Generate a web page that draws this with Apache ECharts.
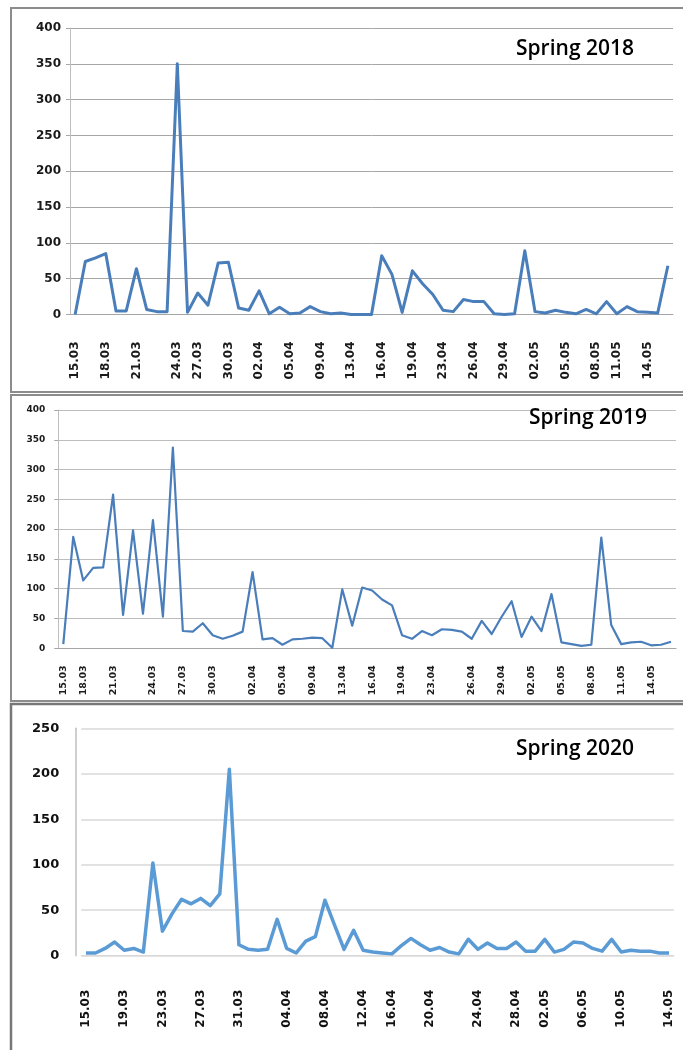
<!DOCTYPE html>
<html>
<head>
<meta charset="utf-8">
<script src="https://cdn.jsdelivr.net/npm/echarts@6/dist/echarts.min.js"></script>
<style>
html, body { margin: 0; padding: 0; background: #fff; }
#chart { width: 683px; height: 1050px; }
</style>
</head>
<body>
<div id="chart"></div>
<script>
// daily values, one entry per category (dates with gaps, as in the source sheets)
const spring2018 = [0, 74, 79, 85, 5, 5, 64, 7, 4, 4, 350, 3, 30, 13, 72, 73, 9, 6, 33, 1,
    10, 1, 2, 11, 4, 1, 2, 0, 0, 0, 82, 56, 3, 61, 43, 28, 6, 4, 21, 18,
    18, 1, 0, 1, 89, 4, 2, 6, 3, 1, 7, 1, 18, 1, 11, 4, 3, 2, 68]
const spring2019 = [7, 187, 114, 135, 136, 258, 56, 198, 58, 215, 53, 337, 29, 28, 42, 22, 16, 21, 28, 128,
    15, 17, 6, 15, 16, 18, 17, 1, 99, 38, 102, 97, 82, 72, 22, 16, 29, 22, 32, 31,
    28, 16, 46, 24, 53, 79, 19, 53, 29, 91, 10, 7, 4, 6, 186, 39, 7, 10, 11, 5, 6, 11]
const spring2020 = [3, 3, 8, 15, 6, 8, 4, 102, 27, 46, 62, 57, 63, 55, 68, 205, 12, 7, 6, 7,
    40, 8, 3, 16, 21, 61, 34, 7, 28, 6, 4, 3, 2, 11, 19, 12, 6, 9, 4, 2,
    18, 7, 14, 8, 8, 15, 5, 5, 18, 4, 7, 15, 14, 8, 5, 18, 4, 6, 5, 5, 3, 3]

// tick labels and the category index each one sits on
const ticks1819 = ['15.03', '18.03', '21.03', '24.03', '27.03', '30.03', '02.04', '05.04', '09.04', '13.04',
    '16.04', '19.04', '23.04', '26.04', '29.04', '02.05', '05.05', '08.05', '11.05', '14.05']
const tickPos2018 = [0, 3, 6, 10, 12, 15, 18, 21, 24, 27, 30, 33, 36, 39, 42, 45, 48, 51, 53, 56]
const tickPos2019 = [0, 2, 5, 9, 12, 15, 19, 22, 25, 28, 31, 34, 37, 41, 44, 47, 50, 53, 56, 59]
const ticks2020 = ['15.03', '19.03', '23.03', '27.03', '31.03', '04.04', '08.04', '12.04',
    '16.04', '20.04', '24.04', '28.04', '02.05', '06.05', '10.05', '14.05']
const tickPos2020 = [0, 4, 8, 12, 16, 21, 25, 29, 32, 36, 41, 45, 48, 52, 56, 61]

const makeCats = (n, pos, txt) => {
    const result = []
    for (let j = 0; j < n; j++) {
        const k = pos.indexOf(j)
        result.push(k >= 0 ? txt[k] : '')
    }
    return result
}

const font = 'DejaVu Sans'
const titleStyle = { fontFamily: 'Open Sans', fontWeight: 600, fontSize: 21, color: '#000' }

const chart = echarts.init(document.getElementById('chart'))

const option = {
    animation: false,
    backgroundColor: '#fff',
    graphic: [
        { type: 'rect', silent: true, z: 0, shape: { x: 11, y: 8, width: 700, height: 384 },
            style: { fill: 'none', stroke: '#8c8c8c', lineWidth: 2 } },
        { type: 'rect', silent: true, z: 0, shape: { x: 11, y: 395, width: 700, height: 306 },
            style: { fill: 'none', stroke: '#8c8c8c', lineWidth: 2 } },
        { type: 'rect', silent: true, z: 0, shape: { x: 11, y: 704, width: 700, height: 380 },
            style: { fill: 'none', stroke: '#777', lineWidth: 2.5 } },
    ],
    title: [
        { text: 'Spring 2018', left: 516, top: 39, padding: 0, textStyle: titleStyle },
        { text: 'Spring 2019', left: 529, top: 408, padding: 0, textStyle: titleStyle },
        { text: 'Spring 2020', left: 516, top: 739, padding: 0, textStyle: titleStyle },
    ],
    grid: [
        { left: 70, top: 28, width: 603, height: 286.5 },
        { left: 58.3, top: 410, width: 617.7, height: 238.3 },
        { left: 81.2, top: 728.3, width: 592.6, height: 227.4 },
    ],
    xAxis: [
        {
            gridIndex: 0,
            type: 'category',
            data: makeCats(spring2018.length, tickPos2018, ticks1819),
            axisLine: { lineStyle: { color: '#a6a6a6' } },
            axisTick: { interval: 0, length: 7, lineStyle: { color: '#a6a6a6' } },
            axisLabel: { interval: 0, rotate: 90, margin: 27, fontFamily: font, fontWeight: 'bold', fontSize: 12, color: '#1a1a1a' },
        },
        {
            gridIndex: 1,
            type: 'category',
            data: makeCats(spring2019.length, tickPos2019, ticks1819),
            axisLine: { lineStyle: { color: '#a6a6a6' } },
            axisTick: { interval: 0, length: 4, lineStyle: { color: '#a6a6a6' } },
            axisLabel: { interval: 0, rotate: 90, margin: 17, fontFamily: font, fontWeight: 'bold', fontSize: 9.5, color: '#1a1a1a' },
        },
        {
            gridIndex: 2,
            type: 'category',
            data: makeCats(spring2020.length, tickPos2020, ticks2020),
            axisLine: { lineStyle: { color: '#d9d9d9' } },
            axisTick: { show: false },
            axisLabel: { interval: 0, rotate: 90, margin: 34, fontFamily: font, fontWeight: 'bold', fontSize: 12, color: '#111' },
        },
    ],
    yAxis: [
        {
            gridIndex: 0,
            type: 'value',
            min: 0,
            max: 400,
            interval: 50,
            axisLine: { show: true, lineStyle: { color: '#bfbfbf' } },
            axisTick: { show: true, length: 4, lineStyle: { color: '#a6a6a6' } },
            axisLabel: { margin: 9, fontFamily: font, fontWeight: 'bold', fontSize: 12, color: '#1a1a1a' },
            splitLine: { lineStyle: { color: '#a6a6a6' } },
        },
        {
            gridIndex: 1,
            type: 'value',
            min: 0,
            max: 400,
            interval: 50,
            axisLine: { show: true, lineStyle: { color: '#bfbfbf' } },
            axisTick: { show: true, length: 4, lineStyle: { color: '#a6a6a6' } },
            axisLabel: { margin: 13, fontFamily: font, fontWeight: 'bold', fontSize: 9, color: '#1a1a1a' },
            splitLine: { lineStyle: { color: '#bdbdbd' } },
        },
        {
            gridIndex: 2,
            type: 'value',
            min: 0,
            max: 250,
            interval: 50,
            offset: 5,
            axisLine: { show: true, lineStyle: { color: '#bfbfbf', width: 1.5 } },
            axisTick: { show: false },
            axisLabel: { margin: 17, fontFamily: font, fontWeight: 'bold', fontSize: 13, color: '#111' },
            splitLine: { lineStyle: { color: '#d9d9d9', width: 1.5 } },
        },
    ],
    series: [
        {
            type: 'line', xAxisIndex: 0, yAxisIndex: 0, data: spring2018,
            symbol: 'none', lineStyle: { color: '#4a7ebb', width: 3, join: 'round' },
        },
        {
            type: 'line', xAxisIndex: 1, yAxisIndex: 1, data: spring2019,
            symbol: 'none', lineStyle: { color: '#4a7ebb', width: 2.2, join: 'round' },
        },
        {
            type: 'line', xAxisIndex: 2, yAxisIndex: 2, data: spring2020,
            symbol: 'none', lineStyle: { color: '#5b9bd5', width: 3.5, join: 'round' },
        },
    ],
}

chart.setOption(option)
</script>
</body>
</html>
